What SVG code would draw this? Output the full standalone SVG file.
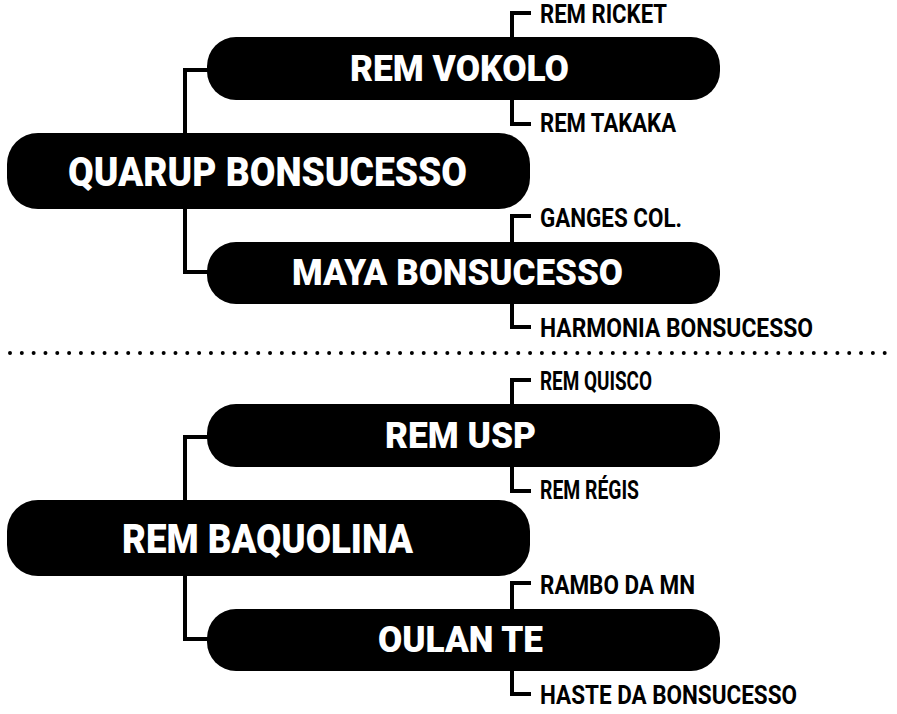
<svg xmlns="http://www.w3.org/2000/svg" width="897" height="714" viewBox="0 0 897 714">
<style>
.pill{fill:#000}
.main{fill:#fff;font-family:Roboto,"Liberation Sans",sans-serif;font-weight:900}
.big{font-size:40px}
.mid{font-size:36px}
.leaf{fill:#000;font-family:Roboto,"Liberation Sans",sans-serif;font-weight:700;font-size:26px}
.conn{fill:none;stroke:#000;stroke-width:4;stroke-linejoin:miter}
.dots{fill:none;stroke:#000;stroke-width:4;stroke-linecap:round;stroke-dasharray:0 11.82}
</style>
<rect width="897" height="714" fill="#fff"/>
<g id="connectors">
<path class="conn" d="M185,133 V70 H209"/>
<path class="conn" d="M185,209 V272 H209"/>
<path class="conn" d="M512,37 V13 H531"/>
<path class="conn" d="M512,100 V124 H531"/>
<path class="conn" d="M512,242 V216 H531"/>
<path class="conn" d="M512,304 V327 H531"/>
<path class="conn" d="M185,500 V437 H209"/>
<path class="conn" d="M185,576 V639 H209"/>
<path class="conn" d="M512,404 V380 H531"/>
<path class="conn" d="M512,467 V491 H531"/>
<path class="conn" d="M512,609 V583 H531"/>
<path class="conn" d="M512,671 V694 H531"/>
</g>
<line id="divider" class="dots" x1="10" y1="353" x2="890" y2="353"/>
<g id="n-quarup"><rect class="pill" x="7" y="133" width="523" height="76" rx="31"/><text class="main big" x="68" y="186" textLength="399" lengthAdjust="spacingAndGlyphs">QUARUP BONSUCESSO</text></g>
<g id="n-vokolo"><rect class="pill" x="207" y="37" width="513" height="63" rx="29"/><text class="main mid" x="350" y="81" textLength="219" lengthAdjust="spacingAndGlyphs">REM VOKOLO</text></g>
<g id="n-maya"><rect class="pill" x="207" y="242" width="513" height="62" rx="29"/><text class="main mid" x="292" y="285" textLength="331" lengthAdjust="spacingAndGlyphs">MAYA BONSUCESSO</text></g>
<g id="n-ricket"><text class="leaf" x="540" y="23" textLength="127" lengthAdjust="spacingAndGlyphs">REM RICKET</text></g>
<g id="n-takaka"><text class="leaf" x="540" y="132" textLength="136" lengthAdjust="spacingAndGlyphs">REM TAKAKA</text></g>
<g id="n-ganges"><text class="leaf" x="540" y="227" textLength="142" lengthAdjust="spacingAndGlyphs">GANGES COL.</text></g>
<g id="n-harmonia"><text class="leaf" x="540" y="337" textLength="273" lengthAdjust="spacingAndGlyphs">HARMONIA BONSUCESSO</text></g>
<g id="n-baquolina"><rect class="pill" x="7" y="500" width="523" height="76" rx="31"/><text class="main big" x="122" y="553" textLength="291" lengthAdjust="spacingAndGlyphs">REM BAQUOLINA</text></g>
<g id="n-usp"><rect class="pill" x="207" y="404" width="513" height="63" rx="29"/><text class="main mid" x="385" y="448" textLength="151" lengthAdjust="spacingAndGlyphs">REM USP</text></g>
<g id="n-oulan"><rect class="pill" x="207" y="609" width="513" height="62" rx="29"/><text class="main mid" x="378" y="652" textLength="165" lengthAdjust="spacingAndGlyphs">OULAN TE</text></g>
<g id="n-quisco"><text class="leaf" x="540" y="390" textLength="112" lengthAdjust="spacingAndGlyphs">REM QUISCO</text></g>
<g id="n-regis"><text class="leaf" x="540" y="499" textLength="99" lengthAdjust="spacingAndGlyphs">REM RÉGIS</text></g>
<g id="n-rambo"><text class="leaf" x="540" y="594" textLength="155" lengthAdjust="spacingAndGlyphs">RAMBO DA MN</text></g>
<g id="n-haste"><text class="leaf" x="540" y="704" textLength="257" lengthAdjust="spacingAndGlyphs">HASTE DA BONSUCESSO</text></g>
</svg>
